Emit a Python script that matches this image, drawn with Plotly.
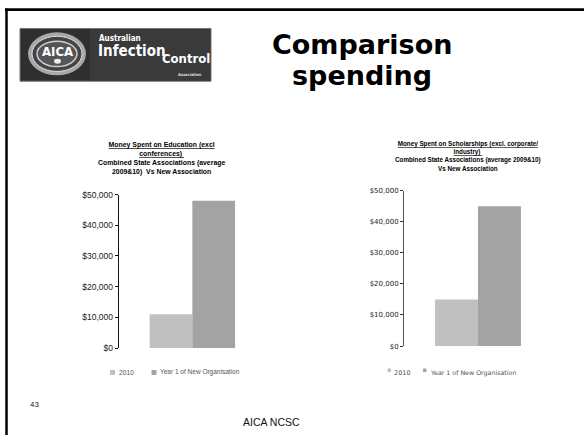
import plotly.graph_objects as go

W, H = 584, 440

categories = ["2010", "Year 1 of New Organisation"]
education_values = [11000, 48000]
scholarship_values = [15000, 45000]
tick_values = [0, 10000, 20000, 30000, 40000, 50000]
tick_labels = ["$" + format(v, ",") for v in tick_values]
bar_colors = ["#c0c0c0", "#a3a3a3"]

left_title = ("<u>Money Spent on Education (excl</u><br><u>conferences) </u><br>"
              "Combined State Associations (average<br>2009&amp;10)  Vs New Association")
right_title = ("<u>Money Spent on Scholarships (excl. corporate/</u><br><u>industry) </u><br>"
               "Combined State Associations (average 2009&amp;10)<br>Vs New Association")


def px(x):
    return x / W


def py(y):
    return 1 - y / H


fig = go.Figure()
for i, cat in enumerate(categories):
    fig.add_trace(go.Bar(x=[0], y=[education_values[i]], name=cat,
                         marker=dict(color=bar_colors[i], line_width=0),
                         xaxis="x", yaxis="y", offsetgroup=str(i), showlegend=False))
    fig.add_trace(go.Bar(x=[0], y=[scholarship_values[i]], name=cat,
                         marker=dict(color=bar_colors[i], line_width=0),
                         xaxis="x2", yaxis="y2", offsetgroup=str(i), showlegend=False))

yaxis_common = dict(range=[0, 50000], tickmode="array", tickvals=tick_values, ticktext=tick_labels,
                    showline=True, linewidth=1, ticks="outside", ticklen=3,
                    showgrid=False, zeroline=False, fixedrange=True)

fig.update_layout(
    width=W, height=H, margin=dict(l=0, r=0, t=0, b=0),
    paper_bgcolor="white", plot_bgcolor="white",
    barmode="group", bargap=0.42, bargroupgap=0,
    showlegend=False,
    xaxis=dict(domain=[px(118.7), px(266)], range=[-0.5, 0.5], visible=False, anchor="y"),
    yaxis=dict(domain=[py(351), py(194)], anchor="x", linecolor="#111", tickcolor="#111",
               tickfont=dict(family="Liberation Sans", size=8.5, color="#222"), **yaxis_common),
    xaxis2=dict(domain=[px(404), px(552)], range=[-0.5, 0.5], visible=False, anchor="y2"),
    yaxis2=dict(domain=[py(349), py(190)], anchor="x2", linecolor="#555", tickcolor="#333",
                tickfont=dict(family="DejaVu Sans", size=7, color="#222"), **yaxis_common),
)

shapes = []
# slide border
shapes.append(dict(type="line", xref="paper", yref="paper", x0=px(5), x1=px(584), y0=py(4.7), y1=py(4.7),
                   line=dict(color="black", width=2.7)))
shapes.append(dict(type="line", xref="paper", yref="paper", x0=px(6.5), x1=px(6.5), y0=py(3.5), y1=py(440),
                   line=dict(color="black", width=2.5)))
# logo
shapes.append(dict(type="rect", xref="paper", yref="paper", x0=px(20), x1=px(211), y0=py(24), y1=py(78),
                   fillcolor="#2f2f2f", line=dict(color="#777", width=1)))
shapes.append(dict(type="rect", xref="paper", yref="paper", x0=px(90), x1=px(210), y0=py(25), y1=py(77),
                   fillcolor="#3a3a3a", line=dict(width=0)))
shapes.append(dict(type="circle", xref="paper", yref="paper", x0=px(28), x1=px(86), y0=py(28), y1=py(72),
                   fillcolor="#a8a8a8", line=dict(width=0)))
shapes.append(dict(type="circle", xref="paper", yref="paper", x0=px(32), x1=px(82), y0=py(32), y1=py(68),
                   fillcolor="#444", line=dict(color="#ddd", width=1)))
shapes.append(dict(type="circle", xref="paper", yref="paper", x0=px(37), x1=px(77), y0=py(37), y1=py(63),
                   fillcolor="#555", line=dict(color="#cfcfcf", width=1.5)))
shapes.append(dict(type="circle", xref="paper", yref="paper", x0=px(54), x1=px(61), y0=py(55), y1=py(60),
                   fillcolor="#eee", line=dict(width=0)))
# legend keys
shapes.append(dict(type="rect", xref="paper", yref="paper", x0=px(110), x1=px(115), y0=py(373.5), y1=py(378.5),
                   fillcolor=bar_colors[0], line=dict(width=0)))
shapes.append(dict(type="rect", xref="paper", yref="paper", x0=px(151.5), x1=px(156.5), y0=py(373.5), y1=py(378.5),
                   fillcolor=bar_colors[1], line=dict(width=0)))
shapes.append(dict(type="rect", xref="paper", yref="paper", x0=px(387.5), x1=px(391), y0=py(372), y1=py(375.5),
                   fillcolor=bar_colors[0], line=dict(width=0)))
shapes.append(dict(type="rect", xref="paper", yref="paper", x0=px(423), x1=px(426.5), y0=py(372), y1=py(375.5),
                   fillcolor=bar_colors[1], line=dict(width=0)))
fig.update_layout(shapes=shapes)


def ann(text, x, y, size, family="Liberation Sans", color="black", xanchor="center", bold=False, align="center"):
    if bold:
        text = "<b>" + text + "</b>"
    return dict(text=text, x=px(x), y=py(y), xref="paper", yref="paper", xanchor=xanchor, yanchor="middle",
                showarrow=False, align=align, font=dict(family=family, size=size, color=color))


annotations = [
    ann("Comparison", 362, 40, 27, family="DejaVu Sans", bold=True),
    ann("spending", 362, 72, 27, family="DejaVu Sans", bold=True),
    ann("43", 28, 409, 8, xanchor="left", color="#222"),
    ann("AICA NCSC", 271, 427, 10.5, color="#111"),
    # logo text
    ann("AICA", 57, 48, 13, family="DejaVu Sans Condensed", color="white", bold=True),
    ann("Australian", 97, 34, 8, family="DejaVu Sans Condensed", color="white", xanchor="left", bold=True),
    ann("Infection", 96, 47, 15, family="DejaVu Sans Condensed", color="white", xanchor="left", bold=True),
    ann("Control", 160, 55, 13, family="DejaVu Sans Condensed", color="white", xanchor="left", bold=True),
    ann("Association", 176, 71, 4, family="DejaVu Sans Condensed", color="#ddd", xanchor="left", bold=True),
    # chart titles
    ann(left_title, 161, 157, 6.9, bold=True, color="#000"),
    ann(right_title, 468, 155, 6.3, bold=True, color="#000"),
    # legends
    ann(categories[0], 117, 376, 6.7, xanchor="left", color="#555"),
    ann(categories[1], 158, 376, 6.5, xanchor="left", color="#555"),
    ann(categories[0], 392, 377, 6.5, family="DejaVu Sans", xanchor="left", color="#555"),
    ann(categories[1], 428, 377, 6.3, family="DejaVu Sans", xanchor="left", color="#555"),
]
fig.update_layout(annotations=annotations)

fig.write_html("out.html")
